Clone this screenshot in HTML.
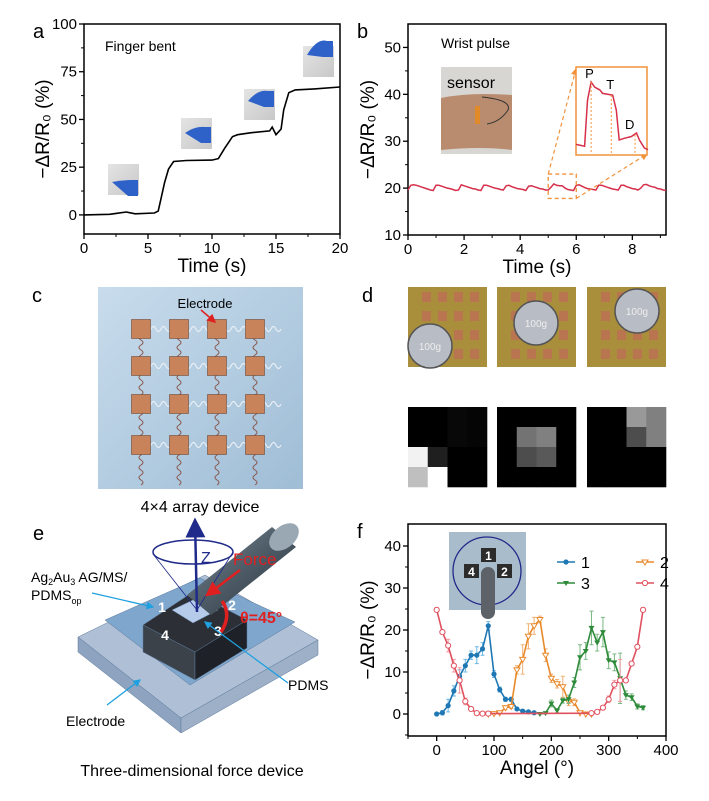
<!DOCTYPE html>
<html><head><meta charset="utf-8"><style>
html,body{margin:0;padding:0;background:#fff}
svg{display:block;font-family:"Liberation Sans",Arial,sans-serif}
</style></head><body>
<svg id="fig" width="709" height="801" viewBox="0 0 709 801" xmlns="http://www.w3.org/2000/svg">
<defs>
<linearGradient id="cyl" x1="0" y1="0" x2="1" y2="1"><stop offset="0" stop-color="#7d8c97"/><stop offset="0.5" stop-color="#4d5b66"/><stop offset="1" stop-color="#2c3640"/></linearGradient>
<linearGradient id="finger" x1="0" y1="0" x2="1" y2="1"><stop offset="0" stop-color="#e4e4e4"/><stop offset="1" stop-color="#c8c8c8"/></linearGradient>
<linearGradient id="bgc" x1="0" y1="0" x2="1" y2="1"><stop offset="0" stop-color="#c8dcec"/><stop offset="1" stop-color="#9fbdd6"/></linearGradient>
<marker id="arrB" markerWidth="8" markerHeight="8" refX="7" refY="4" orient="auto"><path d="M0,0 L8,4 L0,8 z" fill="#1f2a8a"/></marker>
<marker id="arrR" markerWidth="6" markerHeight="6" refX="5" refY="3" orient="auto"><path d="M0,0 L6,3 L0,6 z" fill="#e02020"/></marker>
<marker id="arrC" markerWidth="6" markerHeight="6" refX="5" refY="3" orient="auto"><path d="M0,0 L6,3 L0,6 z" fill="#1fa0e0"/></marker>
<marker id="arrO" markerWidth="6" markerHeight="6" refX="5" refY="3" orient="auto"><path d="M0,0 L6,3 L0,6 z" fill="#f0923a"/></marker>
</defs>
<g id="pa"></g>
<g id="pb"></g>
<g id="pc"></g>
<g id="pd"></g>
<g id="pe"></g>
<g id="pf"></g>
</svg>
<script>
// ---------- Panel a data ----------
const aTime = [0,2,2.5,3.3,4,5.5,5.8,6,6.3,6.6,7,8,10,10.5,11,11.3,11.6,12,13,14.5,14.7,15,15.4,15.6,16,16.5,18,20];
const aVal  = [0,0.3,0.8,1.5,0.6,1,2,8,17,24,28,28.5,28.7,29.5,35,38,41,42,43,44,46,42,45,55,64,65.5,66,67];
const aXTicks = [0,5,10,15,20];
const aYTicks = [0,25,50,75,100];
// ---------- Panel b data ----------
const bVal = [19.6,20.6,20.7,20.6,20.4,20.2,20.0,19.8,19.6,19.5,20.6,20.6,20.4,20.2,20.0,19.9,19.7,19.5,19.6,20.7,20.5,20.3,20.1,19.9,19.8,19.6,19.5,20.6,20.6,20.4,20.2,20.0,19.9,19.7,19.6,20.5,20.6,20.3,20.1,19.9,19.8,19.7,19.5,20.4,20.5,20.3,20.1,19.9,19.8,19.6,19.6,20.2,20.9,20.6,20.5,20.5,20.0,19.7,19.6,19.5,20.6,20.7,20.4,20.1,19.9,19.8,19.7,19.6,20.6,20.6,20.4,20.2,20.0,19.8,19.7,19.6,20.6,20.6,20.3,20.1,19.9,19.8,19.6,20.0,20.7,20.8,20.5,20.3,20.2,19.9,19.8,19.6,19.5];
const bDt = 0.1;
const bXTicks = [0,2,4,6,8];
const bYTicks = [10,20,30,40,50];
const bInsetT = [0,0.12,0.16,0.21,0.26,0.33,0.37,0.44,0.51,0.56,0.6,0.67,0.77,0.84,0.88,0.95,1];
const bInsetV = [1.2,1.0,6.2,8.3,7.7,7.4,7.0,6.9,6.8,5.1,1.7,1.9,2.1,2.5,1.7,0.8,0.6];
// ---------- Panel d data ----------
const dMap1 = [[0,0,0.03,0.02],[0,0,0.03,0.02],[0.95,0.12,0,0],[0.75,1,0,0]];
const dMap2 = [[0,0,0,0],[0,0.45,0.5,0],[0,0.3,0.35,0],[0,0,0,0]];
const dMap3 = [[0,0,0.6,0.5],[0,0,0.3,0.5],[0,0,0,0],[0,0,0,0]];
// ---------- Panel f data ----------
const fAng1 = [0,10,20,30,40,50,60,70,80,90,100,110,120,130,140,150,160,170];
const fVal1 = [0,0.3,2,5.5,9,11.5,14,14,15.5,21,9.5,5.8,3.5,3.5,1.2,0.7,0.5,0.3];
const fErr1 = [0,0.5,1.5,1.2,1.5,1.5,1,2,1.5,1,0.8,0.6,0.5,0.5,0.4,0.3,0.2,0.2];
const fAng2 = [90,100,110,120,130,140,150,160,170,180,190,200,210,220,230,240,250,260,270];
const fVal2 = [0,0.1,0.3,1.5,1.8,10.5,13,18.5,21,22.5,14,8.5,7.2,6.5,3,2.8,0.3,0,0];
const fErr2 = [0.2,0.2,0.3,0.5,0.5,1,3.5,3,2,0.8,1.5,1,1,2.5,1,0.8,0.3,0.2,0.2];
const fAng3 = [180,190,200,210,220,230,240,250,260,270,280,290,300,310,320,330,340,350,360];
const fVal3 = [0,0.2,2.5,0.8,3.2,3.5,7.5,13.5,15,20.5,17,19.5,12.8,12.3,8.5,4.5,4,1.8,1.5];
const fErr3 = [0.3,0.3,0.8,0.5,0.6,1,1.2,3,2,4,2,3.5,2,2,6,1,0.8,0.6,0.5];
const fAng4 = [0,10,20,30,40,50,60,70,80,90,270,280,290,300,310,320,330,340,350,360];
const fVal4 = [24.8,19.5,16.3,11.5,8,3,1.2,0.2,0.1,0.1,0.2,0.5,1.5,3.5,7,8,8,12,16,24.8];
const fErr4 = [0.5,0.5,1.5,1.5,3,0.8,0.5,0.2,0.2,0.2,0.2,0.3,0.5,0.8,1,5,0.5,0.5,0.5,0.5];
const fXTicks = [0,100,200,300,400];
const fYTicks = [0,10,20,30,40];
const fLegend = ["1","2","3","4"];

const NS = "http://www.w3.org/2000/svg";
function mk(parent, tag, attrs, text){
  const e = document.createElementNS(NS, tag);
  for (const k in attrs) e.setAttribute(k, attrs[k]);
  if (text !== undefined) e.textContent = text;
  parent.appendChild(e);
  return e;
}
function scale(d0,d1,p0,p1){ return v => p0 + (v-d0)*(p1-p0)/(d1-d0); }

function axesFrame(g, x0,x1,y0,y1, xs, ys, xTicks, yTicks, xMinor, yMinor, xTitle, yTitle, yTitleX){
  const fr = mk(g,'rect',{x:x0,y:y0,width:x1-x0,height:y1-y0,fill:'none',stroke:'#000','stroke-width':1.5});
  
  
  xTicks.forEach(t=>{
    const x = xs(t);
    const tk = mk(g,'line',{x1:x,x2:x,y1:y1,y2:y1+5,stroke:'#000','stroke-width':1.3});
    
    
    const lb = mk(g,'text',{x:x,y:y1+19,'font-size':15,'text-anchor':'middle'},String(t));
    
    
  });
  xMinor.forEach(t=>{ const x=xs(t); const m=mk(g,'line',{x1:x,x2:x,y1:y1,y2:y1+3,stroke:'#000','stroke-width':1});
    
     });
  yTicks.forEach(t=>{
    const y = ys(t);
    const tk = mk(g,'line',{x1:x0-5,x2:x0,y1:y,y2:y,stroke:'#000','stroke-width':1.3});
    
    
    const lb = mk(g,'text',{x:x0-7,y:y+5,'font-size':15,'text-anchor':'end'},String(t));
    
    
  });
  yMinor.forEach(t=>{ const y=ys(t); const m=mk(g,'line',{x1:x0-3,x2:x0,y1:y,y2:y,stroke:'#000','stroke-width':1});
    
     });
  const xt = mk(g,'text',{x:(x0+x1)/2,y:y1+38,'font-size':19,'text-anchor':'middle'},xTitle);
  
  
  const ym = (y0+y1)/2;
  const yt = mk(g,'text',{x:yTitleX,y:ym,'font-size':19,'text-anchor':'middle',transform:`rotate(-90 ${yTitleX} ${ym})`},yTitle);
  
  
}
function panelLabel(g,x,y,t){
  const l = mk(g,'text',{x:x,y:y,'font-size':20},t);
  
  
}
const yLab = "\u2212\u0394R/R\u2080 (%)";

// ================= Panel a =================
(function(){
  const g = document.getElementById('pa');
  const X0=84,X1=340,Y0=24,Y1=234;
  const xs = scale(0,20,X0,X1), ys = scale(-10,100,Y1,Y0);
  panelLabel(g,33,38,'a');
  axesFrame(g,X0,X1,Y0,Y1,xs,ys,aXTicks,aYTicks,[2.5,7.5,12.5,17.5],[12.5,37.5,62.5,87.5],'Time (s)',yLab,49);
  const t = mk(g,'text',{x:105,y:51,'font-size':14},'Finger bent');
  
  
  const photos = [[108,164],[181,118],[244,89],[303,46]];
  photos.forEach((p,i)=>{
    const r = mk(g,'rect',{x:p[0],y:p[1],width:31,height:31,fill:'url(#finger)'});
    
    
    const f = mk(g,'path',{d:`M${p[0]+4},${p[1]+18-i*3} q10,-${2+i*5} 20,-${2+i*4} l6,0 l0,16 l-10,0 z`,fill:'#2f62c8'});
    
    
  });
  const d = aTime.map((tt,i)=>(i?'L':'M')+xs(tt).toFixed(1)+','+ys(aVal[i]).toFixed(1)).join(' ');
  const ln = mk(g,'path',{d:d,fill:'none',stroke:'#000','stroke-width':1.6});
  
  
})();

// ================= Panel b =================
(function(){
  const g = document.getElementById('pb');
  const X0=408,X1=666,Y0=24,Y1=235;
  const xs = scale(0,9.2,X0,X1), ys = scale(10,55,Y1,Y0);
  panelLabel(g,357,38,'b');
  axesFrame(g,X0,X1,Y0,Y1,xs,ys,bXTicks,bYTicks,[1,3,5,7,9],[15,25,35,45],'Time (s)',yLab,374);
  const t = mk(g,'text',{x:441,y:48,'font-size':14},'Wrist pulse');
  
  
  const ph = mk(g,'rect',{x:441,y:67,width:71,height:87,fill:'#d8d6d2'});
  
  
  const sk = mk(g,'path',{d:'M441,98 Q470,92 512,95 L512,150 Q480,146 441,150 z',fill:'#b98c6f'});
  
  
  const wire = mk(g,'path',{d:'M482,97 Q512,100 508,110 Q500,122 487,124',fill:'none',stroke:'#333','stroke-width':1});
  
  
  const sn = mk(g,'rect',{x:475,y:106,width:5,height:18,fill:'#e08a2a'});
  
  
  const st = mk(g,'text',{x:447,y:88,'font-size':16},'sensor');
  
  
  const d = bVal.map((v,i)=>(i?'L':'M')+xs(i*bDt).toFixed(1)+','+ys(v).toFixed(1)).join(' ');
  const ln = mk(g,'path',{d:d,fill:'none',stroke:'#d6304a','stroke-width':1.5});
  
  
  const bx0=xs(5.0),bx1=xs(6.0),by0=ys(23),by1=ys(17.8);
  const zb = mk(g,'rect',{x:bx0,y:by0,width:bx1-bx0,height:by1-by0,fill:'none',stroke:'#f0923a','stroke-width':1.3,'stroke-dasharray':'4,3'});
  
  
  const IX0=576,IX1=647,IY0=67,IY1=155;
  const l1 = mk(g,'line',{x1:bx0,y1:by0,x2:IX0,y2:IY0+2,stroke:'#f0923a','stroke-width':1.2,'stroke-dasharray':'4,3','marker-end':'url(#arrO)'});
  
  
  const l2 = mk(g,'line',{x1:bx1,y1:by1,x2:IX1,y2:IY1-1,stroke:'#f0923a','stroke-width':1.2,'stroke-dasharray':'4,3','marker-end':'url(#arrO)'});
  
  
  const ib = mk(g,'rect',{x:IX0,y:IY0,width:IX1-IX0,height:IY1-IY0,fill:'#fff',stroke:'#f0923a','stroke-width':1.5});
  
  
  const ixs = scale(0,1,IX0,IX1+1), iys = scale(0,10,IY1,IY0);
  const di = bInsetT.map((tt,i)=>(i?'L':'M')+ixs(tt).toFixed(1)+','+iys(bInsetV[i]).toFixed(1)).join(' ');
  const il = mk(g,'path',{d:di,fill:'none',stroke:'#d6304a','stroke-width':1.5});
  
  
  [[0.21,8.3,'P',-6,-4],[0.49,6.8,'T',-5,-6],[0.82,2.3,'D',-10,-6]].forEach(m=>{
    const x=ixs(m[0]);
    const v = mk(g,'line',{x1:x,x2:x,y1:iys(m[1]),y2:IY1-2,stroke:'#f0923a','stroke-width':1,'stroke-dasharray':'2,2'});
    
    
    const tl = mk(g,'text',{x:x+m[3],y:iys(m[1])+m[4],'font-size':13},m[2]);
    
    
  });
})();

// ================= Panel c =================
(function(){
  const g = document.getElementById('pc');
  panelLabel(g,32,302,'c');
  const bg = mk(g,'rect',{x:98,y:287,width:205,height:202,fill:'url(#bgc)'});
  
  
  const cx=[141,179,217,255], cy=[329,366,404,445];
  cy.forEach((y,r)=>{
    const w = mk(g,'path',{d:`M${cx[0]} ${y} `+Array.from({length:28},(_,k)=>`q2.5,${k%2?5:-5} 5,0`).join(' '),fill:'none',stroke:'#e8eef4','stroke-width':1.2});
    
    
  });
  cx.forEach(x=>{
    const w = mk(g,'path',{d:`M${x} 335 `+Array.from({length:30},(_,k)=>`q${k%2?4:-4},2.5 0,5`).join(' '),fill:'none',stroke:'#8a5a50','stroke-width':1});
    
    
  });
  cy.forEach((y,r)=>cx.forEach((x,c)=>{
    const e = mk(g,'rect',{x:x-9.5,y:y-9.5,width:19,height:19,fill:'#c8835a',stroke:'#6d4a3a','stroke-width':0.6});
    
    
  }));
  const lt = mk(g,'text',{x:205,y:308,'font-size':13,'text-anchor':'middle'},'Electrode');
  
  
  const ar = mk(g,'line',{x1:201,y1:310,x2:215,y2:322,stroke:'#e02020','stroke-width':1.5,'marker-end':'url(#arrR)'});
  
  
  const cap = mk(g,'text',{x:200,y:512,'font-size':16,'text-anchor':'middle'},'4\u00d74 array device');
  
  
})();

// ================= Panel d =================
(function(){
  const g = document.getElementById('pd');
  panelLabel(g,362,302,'d');
  const xs=[408,497,587], W=79;
  const coin=[[430,346],[536,323],[637,311]];
  xs.forEach((x,i)=>{
    const p = mk(g,'rect',{x:x,y:287,width:W,height:80,fill:'#a98e3c'});
    
    
    for(let r=0;r<4;r++)for(let c=0;c<4;c++){
      const q = mk(g,'rect',{x:x+14+c*16,y:292+r*19,width:9,height:10,fill:'#b87550'});
      
      
    }
    const co = mk(g,'ellipse',{cx:coin[i][0],cy:coin[i][1],rx:22,ry:22,fill:'#b8bcc4',stroke:'#555','stroke-width':1.5});
    
    
    const ct = mk(g,'text',{x:coin[i][0],y:coin[i][1]+4,'font-size':10,'text-anchor':'middle',fill:'#eee'},'100g');
    
    
  });
  [dMap1,dMap2,dMap3].forEach((m,i)=>{
    const x0 = xs[i];
    m.forEach((row,r)=>row.forEach((v,c)=>{
      const gv = Math.round(v*255);
      const cell = mk(g,'rect',{x:x0+c*W/4,y:407+r*20,width:W/4+0.3,height:20.3,fill:`rgb(${gv},${gv},${gv})`});
      
      
    }));
  });
})();

// ================= Panel e =================
(function(){
  const g = document.getElementById('pe');
  panelLabel(g,33,540,'e');
  const shapes = [
    ['M78,637 L205,575 L318,640 L181,718 z','#aebfd6','base-plate-top'],
    ['M78,637 L181,718 L181,733 L78,652 z','#8ea3bf','base-plate-left'],
    ['M181,718 L318,640 L318,655 L181,733 z','#9db0c8','base-plate-right'],
    ['M105,620 L200,578 L295,622 L190,685 z','#7fa6cc','pdms-blocks'],
    ['M143,625 L193,592 L247,620 L195,652 z','#2c3036','sensor-cubes-top'],
    ['M143,625 L195,652 L195,680 L143,652 z','#3c424a','sensor-cube-left'],
    ['M195,652 L247,620 L247,648 L195,680 z','#1e2228','sensor-cube-right'],
    ['M172,610 L197,598 L218,610 L193,623 z','#b6cbea','pdms-pillar']
  ];
  shapes.forEach(s=>{ const p=mk(g,'path',{d:s[0],fill:s[1],stroke:'#5c7a9a','stroke-width':0.5});
    
     });
  [['1',162,612],['2',232,610],['4',165,640],['3',218,636]].forEach(n=>{
    const t=mk(g,'text',{x:n[1],y:n[2],'font-size':14,'font-weight':'bold',fill:'#fff','text-anchor':'middle'},n[0]);
    
    
  });
  const cy = mk(g,'path',{d:'M187,595 L272,527 L296,547 L211,615 z',fill:'url(#cyl)'});
  
  
  const ce = mk(g,'ellipse',{cx:284,cy:537,rx:17,ry:11,fill:'#9aa8b4',transform:'rotate(-40 284 537)'});
  
  
  const el = mk(g,'ellipse',{cx:193,cy:552,rx:40,ry:12,fill:'none',stroke:'#1f2a8a','stroke-width':1.5});
  
  
  const cone = mk(g,'path',{d:'M153,554 L197,610 L233,552',fill:'none',stroke:'#1f2a8a','stroke-width':0.8});
  
  
  const z = mk(g,'line',{x1:197,y1:612,x2:195,y2:520,stroke:'#1f2a8a','stroke-width':2.5,'marker-end':'url(#arrB)'});
  
  
  const zt = mk(g,'text',{x:201,y:563,'font-size':16,fill:'#1f2a8a'},'Z');
  
  
  const ft = mk(g,'text',{x:233,y:565,'font-size':17,fill:'#e02020'},'Force');
  
  
  const fa = mk(g,'line',{x1:240,y1:570,x2:207,y2:595,stroke:'#e02020','stroke-width':2.5,'marker-end':'url(#arrR)'});
  
  
  const arc = mk(g,'path',{d:'M222,601 Q232,615 221,632',fill:'none',stroke:'#e02020','stroke-width':3.5});
  
  
  const th = mk(g,'text',{x:240,y:623,'font-size':16,fill:'#e02020','font-weight':'bold'},'\u03b8=45\u00b0');
  
  
  const l1 = mk(g,'text',{x:31,y:582,'font-size':14});
  
  
  l1.innerHTML = 'Ag<tspan font-size="9" dy="3">2</tspan><tspan dy="-3">Au</tspan><tspan font-size="9" dy="3">3</tspan><tspan dy="-3"> AG/MS/</tspan>';
  const l2 = mk(g,'text',{x:31,y:600,'font-size':14});
  
  
  l2.innerHTML = 'PDMS<tspan font-size="9" dy="4">op</tspan>';
  [[92,593,153,607,'material-arrow'],[288,683,205,622,'pdms-arrow'],[107,705,140,680,'electrode-arrow-e']].forEach(a=>{
    const l=mk(g,'line',{x1:a[0],y1:a[1],x2:a[2],y2:a[3],stroke:'#1fa0e0','stroke-width':1.3,'marker-end':'url(#arrC)'});
    
    
  });
  const pd = mk(g,'text',{x:288,y:690,'font-size':14},'PDMS');
  
  
  const ed = mk(g,'text',{x:66,y:726,'font-size':14},'Electrode');
  
  
  const cap = mk(g,'text',{x:192,y:776,'font-size':16,'text-anchor':'middle'},'Three-dimensional force device');
  
  
})();

// ================= Panel f =================
(function(){
  const g = document.getElementById('pf');
  const X0=408,X1=666,Y0=524,Y1=736;
  const xs = scale(-50,400,X0,X1), ys = scale(0,40,714,546);
  panelLabel(g,357,538,'f');
  axesFrame(g,X0,X1,Y0,Y1,xs,ys,fXTicks,fYTicks,[-50,50,150,250,350],[-5,5,15,25,35],'Angel (\u00b0)',yLab,374);
  const ib = mk(g,'rect',{x:449,y:532,width:77,height:78,fill:'#a9bccb'});
  
  
  const ic = mk(g,'circle',{cx:487,cy:571,r:34,fill:'none',stroke:'#1f2a8a','stroke-width':1.3});
  
  
  [['1',481,548],['4',464,564],['2',497,564]].forEach(n=>{
    const r=mk(g,'rect',{x:n[1],y:n[2],width:15,height:14,fill:'#2c2c2c'});
    
    
    const t=mk(g,'text',{x:n[1]+7.5,y:n[2]+12,'font-size':12,'font-weight':'bold',fill:'#fff','text-anchor':'middle'},n[0]);
    
    
  });
  const rod = mk(g,'rect',{x:481,y:567,width:14,height:52,rx:7,fill:'#5c6268'});
  
  
  const series = [
    [fAng1,fVal1,fErr1,'#1f78b4','#6ab8e8','fc'],
    [fAng2,fVal2,fErr2,'#e8892b','#f0b070','ot'],
    [fAng3,fVal3,fErr3,'#2e8b3a','#7ab884','ft'],
    [fAng4,fVal4,fErr4,'#e0505f','#f09aa2','oc']
  ];
  function marker(gp,x,y,type,col){
    let m;
    if(type==='fc') m=mk(gp,'circle',{cx:x,cy:y,r:2.6,fill:col});
    else if(type==='oc') m=mk(gp,'circle',{cx:x,cy:y,r:2.6,fill:'#fff',stroke:col,'stroke-width':1});
    else if(type==='ft') m=mk(gp,'path',{d:`M${x-3},${y-2} L${x+3},${y-2} L${x},${y+3} z`,fill:col});
    else m=mk(gp,'path',{d:`M${x-3},${y-2} L${x+3},${y-2} L${x},${y+3} z`,fill:'#fff',stroke:col,'stroke-width':1});
    return m;
  }
  series.forEach((s,si)=>{
    const gp = mk(g,'g',{});
    
    
    s[0].forEach((a,i)=>{
      if(s[2][i]>0.4){
        const x=xs(a);
        const e=mk(gp,'path',{d:`M${x},${ys(s[1][i]-s[2][i])} L${x},${ys(s[1][i]+s[2][i])} M${x-2},${ys(s[1][i]-s[2][i])} h4 M${x-2},${ys(s[1][i]+s[2][i])} h4`,stroke:s[4],'stroke-width':1,fill:'none'});
        
        
      }
    });
    const d = s[0].map((a,i)=>(i?'L':'M')+xs(a).toFixed(1)+','+ys(s[1][i]).toFixed(1)).join(' ');
    const ln = mk(gp,'path',{d:d,fill:'none',stroke:s[3],'stroke-width':1.6});
    
    
    s[0].forEach((a,i)=>{
      const m = marker(gp,xs(a),ys(s[1][i]),s[5],s[3]);
      
      
    });
  });
  const pos = [[557,562],[636,562],[557,583],[636,583]];
  fLegend.forEach((lab,i)=>{
    const p=pos[i], s=series[i];
    const l=mk(g,'line',{x1:p[0],x2:p[0]+18,y1:p[1],y2:p[1],stroke:s[3],'stroke-width':1.6});
    
    
    const m=marker(g,p[0]+9,p[1],s[5],s[3]);
    
    
    const t=mk(g,'text',{x:p[0]+24,y:p[1]+6,'font-size':16},lab);
    
    
  });
})();
</script>
</body></html>
